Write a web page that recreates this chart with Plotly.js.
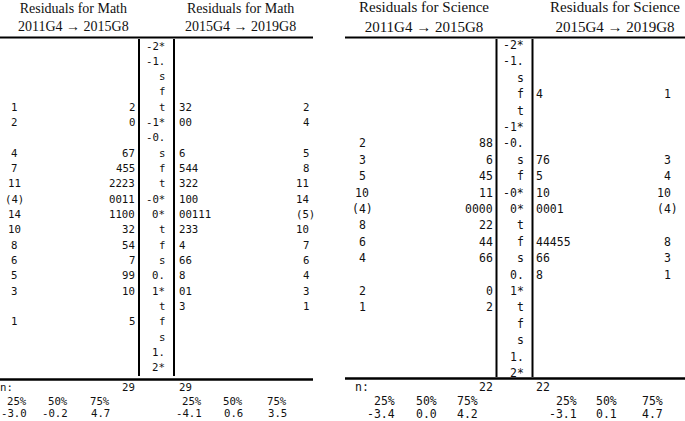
<!DOCTYPE html>
<html><head><meta charset="utf-8">
<script src="https://cdn.plot.ly/plotly-3.0.1.min.js"></script>
<style>html,body{margin:0;padding:0;background:#fff}</style>
</head><body><div id="chart" style="width:685px;height:421px"></div>
<script>
// ---------- data ----------
const mathStems = ["-2*","-1.","s","f","t","-1*","-0.","s","f","t","-0*","0*","t","f","s","0.","1*","t","f","s","1.","2*"];
const math2011Leaves = ["","","","","2","0","","67","455","2223","0011","1100","32","54","7","99","10","","5","","",""];
const math2011Depths = ["","","","","1","2","","4","7","11","(4)","14","10","8","6","5","3","","1","","",""];
const math2015Leaves = ["","","","","32","00","","6","544","322","100","00111","233","4","66","8","01","3","","","",""];
const math2015Depths = ["","","","","2","4","","5","8","11","14","(5)","10","7","6","4","3","1","","","",""];

const sciStems = ["-2*","-1.","s","f","t","-1*","-0.","s","f","-0*","0*","t","f","s","0.","1*","t","f","s","1.","2*"];
const sci2011Leaves = ["","","","","","","88","6","45","11","0000","22","44","66","","0","2","","","",""];
const sci2011Depths = ["","","","","","","2","3","5","10","(4)","8","6","4","","2","1","","","",""];
const sci2015Leaves = ["","","","4","","","","76","5","10","0001","","44455","66","8","","","","","",""];
const sci2015Depths = ["","","","1","","","","3","4","10","(4)","","8","3","1","","","","","",""];

const mathN = ["29","29"];
const sciN = ["22","22"];
const quantLabels = ["25%","50%","75%"];
const math2011Q = ["-3.0","-0.2","4.7"];
const math2015Q = ["-4.1","0.6","3.5"];
const sci2011Q = ["-3.4","0.0","4.2"];
const sci2015Q = ["-3.1","0.1","4.7"];

const mathTitles = ["Residuals for Math<br>2011G4 \u2192 2015G8", "Residuals for Math<br>2015G4 \u2192 2019G8"];
const sciTitles = ["Residuals for Science<br>2011G4 \u2192 2015G8", "Residuals for Science<br>2015G4 \u2192 2019G8"];

// ---------- layout helpers ----------
const MONO = "DejaVu Sans Mono, monospace";
const SERIF = "Liberation Serif, Times New Roman, serif";
const ink = "#111";
const ann = [];
function txt(x, y, yref, text, anchor, size, fam) {
  if (text === "") return;
  ann.push({x: x, y: y, xref: "x", yref: yref, text: text, showarrow: false,
    xanchor: anchor, yanchor: "middle", borderpad: 0, borderwidth: 0,
    font: {family: fam || MONO, size: size, color: ink}});
}

function panel(cfg) {
  const cw = cfg.size * 0.602;
  cfg.stems.forEach((s, i) => {
    txt(cfg.stemX, i, cfg.yref, s, "right", cfg.size);
    txt(cfg.leftLeafX, i, cfg.yref, cfg.leftLeaves[i], "right", cfg.size);
    txt(cfg.rightLeafX, i, cfg.yref, cfg.rightLeaves[i], "left", cfg.size);
    txt(cfg.leftDepthX, i, cfg.yref, cfg.leftDepths[i], "center", cfg.size);
    const rd = cfg.rightDepths[i];
    txt(cfg.rightDepthX + (rd.startsWith("(") ? cw : 0), i, cfg.yref, rd, "right", cfg.size);
  });
  // headers
  txt(cfg.h1x, 17, "y3", cfg.titles[0], "center", cfg.hsize, SERIF);
  txt(cfg.h2x, 17, "y3", cfg.titles[1], "center", cfg.hsize, SERIF);
  // footer
  txt(cfg.x0, cfg.fy[0], "y3", "n:", "left", cfg.size);
  txt(cfg.leftLeafX, cfg.fy[0], "y3", cfg.n[0], "right", cfg.size);
  txt(cfg.rightLeafX, cfg.fy[0], "y3", cfg.n[1], "left", cfg.size);
  quantLabels.forEach((q, k) => {
    txt(cfg.qL[k], cfg.fy[1], "y3", q, "right", cfg.size);
    txt(cfg.qL[k], cfg.fy[2], "y3", cfg.qLv[k], "right", cfg.size);
    txt(cfg.qR[k], cfg.fy[1], "y3", q, "right", cfg.size);
    txt(cfg.qR[k], cfg.fy[2], "y3", cfg.qRv[k], "right", cfg.size);
  });
}

panel({stems: mathStems, leftLeaves: math2011Leaves, leftDepths: math2011Depths,
  rightLeaves: math2015Leaves, rightDepths: math2015Depths, yref: "y", size: 10.7,
  stemX: 165, leftLeafX: 135, rightLeafX: 179, leftDepthX: 14, rightDepthX: 309,
  titles: mathTitles, h1x: 73, h2x: 240, hsize: 14,
  x0: 0, n: mathN, fy: [387.5, 401, 413.5], qL: [27, 68, 110], qR: [202, 243, 287],
  qLv: math2011Q, qRv: math2015Q});

panel({stems: sciStems, leftLeaves: sci2011Leaves, leftDepths: sci2011Depths,
  rightLeaves: sci2015Leaves, rightDepths: sci2015Depths, yref: "y2", size: 11.5,
  stemX: 524, leftLeafX: 493, rightLeafX: 536, leftDepthX: 362, rightDepthX: 671,
  titles: sciTitles, h1x: 424, h2x: 615, hsize: 15,
  x0: 355, n: sciN, fy: [386.5, 400.5, 413.5], qL: [395, 437, 478], qR: [577, 617, 663],
  qLv: sci2011Q, qRv: sci2015Q});

function line(x0, y0, x1, y1, w) {
  return {type: "line", xref: "x", yref: "y3", x0: x0, y0: y0, x1: x1, y1: y1,
    line: {color: "#000", width: w}};
}
const shapes = [
  line(0, 37.5, 313, 37.5, 2), line(345, 37.5, 685, 37.5, 2),
  line(0, 379.5, 313, 379.5, 2.5), line(345, 378.5, 685, 378.5, 2.5),
  line(139, 39, 139, 376, 2), line(174, 39, 174, 376, 2),
  line(496.5, 39, 496.5, 377, 2), line(532.5, 39, 532.5, 377, 2)
];

const H = 421;
const layout = {
  width: 685, height: H, margin: {l: 0, r: 0, t: 0, b: 0},
  paper_bgcolor: "#fff", plot_bgcolor: "#fff", showlegend: false,
  xaxis: {range: [0, 685], visible: false, fixedrange: true},
  yaxis: {range: [(H - 46) / 15.33, -46 / 15.33], visible: false},
  yaxis2: {range: [(H - 45) / 16.4, -45 / 16.4], visible: false, overlaying: "y"},
  yaxis3: {range: [H, 0], visible: false, overlaying: "y"},
  annotations: ann, shapes: shapes
};
Plotly.newPlot("chart", [{x: [0], y: [0], mode: "markers", marker: {opacity: 0}, hoverinfo: "skip"}], layout, {staticPlot: true});
</script></body></html>
